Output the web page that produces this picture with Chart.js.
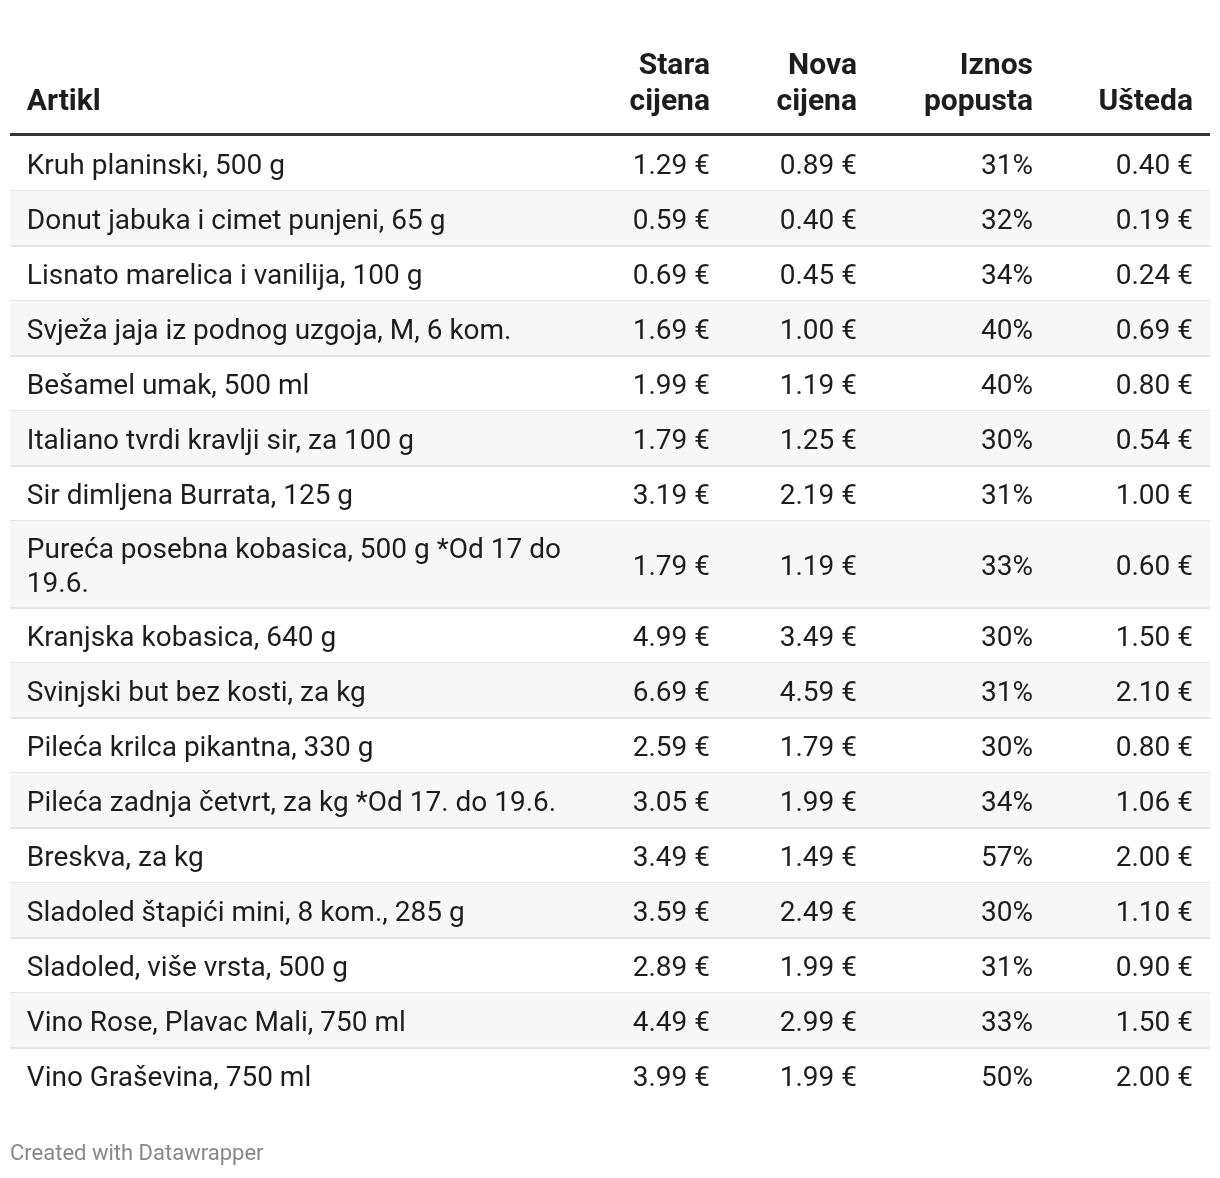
<!DOCTYPE html>
<html>
<head>
<meta charset="utf-8">
<script src="https://cdn.jsdelivr.net/npm/chart.js@4"></script>
<style>
  html, body { margin: 0; padding: 0; background: #fff; overflow: hidden; }
  canvas { display: block; }
</style>
</head>
<body>
<canvas id="table" width="1220" height="1178"></canvas>
<script>
// Table data
const headers = ['Artikl', 'Stara\ncijena', 'Nova\ncijena', 'Iznos\npopusta', 'Ušteda'];
const articles = [
    'Kruh planinski, 500 g',
    'Donut jabuka i cimet punjeni, 65 g',
    'Lisnato marelica i vanilija, 100 g',
    'Svježa jaja iz podnog uzgoja, M, 6 kom.',
    'Bešamel umak, 500 ml',
    'Italiano tvrdi kravlji sir, za 100 g',
    'Sir dimljena Burrata, 125 g',
    'Pureća posebna kobasica, 500 g *Od 17 do 19.6.',
    'Kranjska kobasica, 640 g',
    'Svinjski but bez kosti, za kg',
    'Pileća krilca pikantna, 330 g',
    'Pileća zadnja četvrt, za kg *Od 17. do 19.6.',
    'Breskva, za kg',
    'Sladoled štapići mini, 8 kom., 285 g',
    'Sladoled, više vrsta, 500 g',
    'Vino Rose, Plavac Mali, 750 ml',
    'Vino Graševina, 750 ml'
];
const oldPrices = [1.29, 0.59, 0.69, 1.69, 1.99, 1.79, 3.19, 1.79, 4.99, 6.69, 2.59, 3.05, 3.49, 3.59, 2.89, 4.49, 3.99];
const newPrices = [0.89, 0.40, 0.45, 1.00, 1.19, 1.25, 2.19, 1.19, 3.49, 4.59, 1.79, 1.99, 1.49, 2.49, 1.99, 2.99, 1.99];
const discounts = [31, 32, 34, 40, 40, 30, 31, 33, 30, 31, 30, 34, 57, 30, 31, 33, 50];
const savings = [0.40, 0.19, 0.24, 0.69, 0.80, 0.54, 1.00, 0.60, 1.50, 2.10, 0.80, 1.06, 2.00, 1.10, 0.90, 1.50, 2.00];

// Styles
const FONT = 'Roboto, "Noto Sans", sans-serif';
const BODY_SIZE = 28;
const HEAD_SIZE = 30;
const LINE_H = 34;
const ROW_H = 55;
const TEXT_COLOR = '#1d1d1d';
const MAX_TEXT_W = 560;
// column anchors in percent of table width (first is left aligned, others right aligned)
const colX = [1.4, 58.33, 70.58, 85.25, 98.58];

const euro = v => v.toFixed(2) + ' €';

// Wrap article names to measure row heights
const measureCtx = document.createElement('canvas').getContext('2d');
measureCtx.font = BODY_SIZE + 'px ' + FONT;
function wrap(text) {
    const words = text.split(' ');
    const lines = [];
    let line = '';
    words.forEach(w => {
        const test = line ? line + ' ' + w : w;
        if (line && measureCtx.measureText(test).width > MAX_TEXT_W) {
            lines.push(line);
            line = w;
        } else {
            line = test;
        }
    });
    lines.push(line);
    return lines;
}
const wrapped = articles.map(wrap);

// Row extents in row units
const rowTop = [];
const rowBottom = [];
let acc = 0;
wrapped.forEach(lines => {
    rowTop.push(acc);
    acc += 1 + (lines.length - 1) * (LINE_H - 2) / ROW_H;
    rowBottom.push(acc);
});
const totalUnits = acc;

const tablePlugin = {
    id: 'tablePlugin',
    beforeDraw(chart) {
        const { ctx, width, height } = chart;
        ctx.save();
        ctx.fillStyle = '#fff';
        ctx.fillRect(0, 0, width, height);
        ctx.restore();
    },
    afterDraw(chart) {
        const { ctx, chartArea } = chart;
        const xs = chart.scales.x;
        const ys = chart.scales.y;
        const left = chartArea.left;
        const right = chartArea.right;
        ctx.save();

        // Stripes and separators
        articles.forEach((a, i) => {
            const y0 = ys.getPixelForValue(rowTop[i]);
            const y1 = ys.getPixelForValue(rowBottom[i]);
            if (i % 2 === 1) {
                ctx.fillStyle = '#f7f7f7';
                ctx.fillRect(left, y0, right - left, y1 - y0);
            }
            if (i < articles.length - 1) {
                ctx.fillStyle = '#e5e5e5';
                ctx.fillRect(left, y1 - 1, right - left, 2);
            }
        });

        // Header
        ctx.fillStyle = '#333';
        ctx.fillRect(left, chartArea.top - 3, right - left, 3);
        ctx.font = 'bold ' + HEAD_SIZE + 'px ' + FONT;
        ctx.fillStyle = TEXT_COLOR;
        ctx.textBaseline = 'alphabetic';
        headers.forEach((h, c) => {
            const lines = h.split('\n');
            ctx.textAlign = c === 0 ? 'left' : 'right';
            const x = xs.getPixelForValue(colX[c]);
            lines.forEach((l, k) => {
                const y = chartArea.top - 26 - (lines.length - 1 - k) * 36;
                ctx.fillText(l, x, y);
            });
        });

        // Body cells
        ctx.font = BODY_SIZE + 'px ' + FONT;
        articles.forEach((a, i) => {
            const mid = (ys.getPixelForValue(rowTop[i]) + ys.getPixelForValue(rowBottom[i])) / 2;
            const lines = wrapped[i];
            ctx.textAlign = 'left';
            lines.forEach((l, k) => {
                ctx.fillText(l, xs.getPixelForValue(colX[0]), mid + 10 + (k - (lines.length - 1) / 2) * LINE_H);
            });
            const cells = [euro(oldPrices[i]), euro(newPrices[i]), discounts[i] + '%', euro(savings[i])];
            ctx.textAlign = 'right';
            cells.forEach((t, c) => {
                ctx.fillText(t, xs.getPixelForValue(colX[c + 1]), mid + 10);
            });
        });

        // Footer
        ctx.font = '22px ' + FONT;
        ctx.fillStyle = '#888';
        ctx.textAlign = 'left';
        ctx.fillText('Created with Datawrapper', 10, chart.height - 18);
        ctx.restore();
    }
};

new Chart(document.getElementById('table'), {
    type: 'scatter',
    data: { datasets: [{ data: [] }] },
    options: {
        responsive: false,
        animation: false,
        events: [],
        layout: { padding: { left: 10, right: 10, top: 136, bottom: 75 } },
        plugins: { legend: { display: false }, tooltip: { enabled: false } },
        scales: {
            x: { type: 'linear', min: 0, max: 100, display: false },
            y: { type: 'linear', min: 0, max: totalUnits, reverse: true, display: false }
        }
    },
    plugins: [tablePlugin]
});
</script>
</body>
</html>
